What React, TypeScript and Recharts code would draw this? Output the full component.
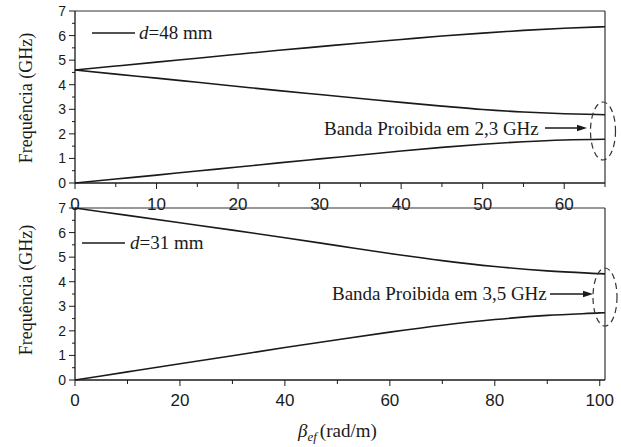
import React from "react";
import { LineChart, Line, XAxis, YAxis, ReferenceLine } from "recharts";

// top panel, d = 48 mm
const betaTop = [0, 5, 10, 15, 20, 25, 30, 35, 40, 45, 50, 55, 60, 65];
const upperTop = [4.6, 4.76, 4.92, 5.08, 5.24, 5.4, 5.55, 5.7, 5.84, 5.98, 6.1, 6.21, 6.3, 6.36];
const middleTop = [4.6, 4.43, 4.27, 4.1, 3.93, 3.76, 3.6, 3.44, 3.28, 3.13, 2.99, 2.89, 2.82, 2.78];
const lowerTop = [0, 0.16, 0.32, 0.49, 0.65, 0.82, 0.98, 1.14, 1.3, 1.45, 1.58, 1.68, 1.75, 1.78];

// bottom panel, d = 31 mm
const betaBottom = [0, 10, 20, 30, 40, 50, 60, 70, 80, 90, 100, 101];
const upperBottom = [7.0, 6.7, 6.4, 6.1, 5.79, 5.47, 5.15, 4.86, 4.62, 4.44, 4.33, 4.32];
const lowerBottom = [0, 0.33, 0.66, 0.99, 1.32, 1.64, 1.95, 2.23, 2.46, 2.63, 2.73, 2.74];

const yTicks = [0, 0.5, 1, 1.5, 2, 2.5, 3, 3.5, 4, 4.5, 5, 5.5, 6, 6.5, 7];
const xTicksTop = [0, 5, 10, 15, 20, 25, 30, 35, 40, 45, 50, 55, 60, 65];
const xTicksBottom = [0, 10, 20, 30, 40, 50, 60, 70, 80, 90, 100];

const topData = betaTop.map((b, i) => ({
  beta: b,
  upper: upperTop[i],
  middle: middleTop[i],
  lower: lowerTop[i],
}));
const bottomData = betaBottom.map((b, i) => ({
  beta: b,
  upper: upperBottom[i],
  lower: lowerBottom[i],
}));

const INK = "#1a1a1a";
const SANS = '"Liberation Sans", Arial, sans-serif';
const SERIF = '"Liberation Serif", "Times New Roman", serif';
const serifStyle = { fontFamily: SERIF };

function YTick(props: any) {
  const { x, y, payload } = props;
  const v = payload.value;
  const major = Number.isInteger(v);
  return (
    <g>
      <line x1={x - (major ? 6 : 3)} x2={x} y1={y} y2={y} stroke={INK} strokeWidth={1} />
      {major && (
        <text x={x - 9} y={y} dy="0.36em" textAnchor="end" fontSize={14} style={{ fontFamily: SANS }} fill={INK}>
          {v}
        </text>
      )}
    </g>
  );
}

const makeXTick = (step: number, drop: number) => (props: any) => {
  const { x, y, payload } = props;
  const v = payload.value;
  const major = v % step === 0;
  return (
    <g>
      <line x1={x} x2={x} y1={y} y2={y + (major ? 6 : 4)} stroke={INK} strokeWidth={1} />
      {major && (
        <text x={x} y={y + drop} textAnchor="middle" fontSize={17} style={{ fontFamily: SANS }} fill={INK}>
          {v}
        </text>
      )}
    </g>
  );
};

const XTickTop = makeXTick(10, 27);
const XTickBottom = makeXTick(20, 26);

function Arrow({ x1, x2, y }: { x1: number; x2: number; y: number }) {
  return (
    <g>
      <line x1={x1} x2={x2 - 8} y1={y} y2={y} stroke={INK} strokeWidth={1.3} />
      <polygon points={`${x2 - 10},${y - 3.2} ${x2},${y} ${x2 - 10},${y + 3.2}`} fill={INK} />
    </g>
  );
}

export default function App() {
  return (
    <div style={{ position: "absolute", left: 0, top: 0, width: 621, height: 447, background: "#fff" }}>
      <div style={{ position: "absolute", left: 0, top: 0 }}>
        <LineChart width={621} height={215} data={topData} margin={{ top: 11, right: 16, bottom: 0, left: 0 }}>
          <XAxis
            dataKey="beta"
            type="number"
            domain={[0, 65]}
            ticks={xTicksTop}
            interval={0}
            height={32}
            tickSize={0}
            tickMargin={0}
            tickLine={false}
            tick={<XTickTop />}
            axisLine={{ stroke: INK, strokeWidth: 1.3 }}
          />
          <YAxis
            type="number"
            domain={[0, 7]}
            ticks={yTicks}
            interval={0}
            width={75}
            tickSize={0}
            tickMargin={0}
            tickLine={false}
            tick={<YTick />}
            axisLine={{ stroke: INK, strokeWidth: 1.3 }}
          />
          <ReferenceLine y={7} stroke="#333" strokeWidth={1.2} />
          <ReferenceLine x={65} stroke="#333" strokeWidth={1.2} />
          <Line type="monotone" dataKey="upper" stroke={INK} strokeWidth={1.6} dot={false} isAnimationActive={false} />
          <Line type="monotone" dataKey="middle" stroke={INK} strokeWidth={1.6} dot={false} isAnimationActive={false} />
          <Line type="monotone" dataKey="lower" stroke={INK} strokeWidth={1.6} dot={false} isAnimationActive={false} />
        </LineChart>
      </div>
      <div style={{ position: "absolute", left: 0, top: 195 }}>
        <LineChart width={621} height={252} data={bottomData} margin={{ top: 13, right: 16, bottom: 27, left: 0 }}>
          <XAxis
            dataKey="beta"
            type="number"
            domain={[0, 101]}
            ticks={xTicksBottom}
            interval={0}
            height={40}
            tickSize={0}
            tickMargin={0}
            tickLine={false}
            tick={<XTickBottom />}
            axisLine={{ stroke: INK, strokeWidth: 1.3 }}
          />
          <YAxis
            type="number"
            domain={[0, 7]}
            ticks={yTicks}
            interval={0}
            width={75}
            tickSize={0}
            tickMargin={0}
            tickLine={false}
            tick={<YTick />}
            axisLine={{ stroke: INK, strokeWidth: 1.3 }}
          />
          <ReferenceLine y={7} stroke="#333" strokeWidth={1.2} />
          <ReferenceLine x={101} stroke="#333" strokeWidth={1.2} />
          <Line type="monotone" dataKey="upper" stroke={INK} strokeWidth={1.6} dot={false} isAnimationActive={false} />
          <Line type="monotone" dataKey="lower" stroke={INK} strokeWidth={1.6} dot={false} isAnimationActive={false} />
        </LineChart>
      </div>
      <svg
        width={621}
        height={447}
        style={{ position: "absolute", left: 0, top: 0, pointerEvents: "none" }}
      >
        {/* axis titles */}
        <text
          transform="translate(26,98) rotate(-90)"
          textAnchor="middle"
          dy="0.35em"
          fontSize={18}
          style={serifStyle}
          fill={INK}
        >
          Frequência (GHz)
        </text>
        <text
          transform="translate(26,290) rotate(-90)"
          textAnchor="middle"
          dy="0.35em"
          fontSize={18}
          style={serifStyle}
          fill={INK}
        >
          Frequência (GHz)
        </text>
        <text x={298} y={437} fontSize={19} style={serifStyle} fill={INK}>
          <tspan fontStyle="italic">β</tspan>
          <tspan fontStyle="italic" fontSize={13} dy={4}>ef</tspan>
          <tspan dy={-4} dx={3}>(rad/m)</tspan>
        </text>

        {/* legends */}
        <line x1={92} x2={135} y1={33} y2={33} stroke={INK} strokeWidth={1.6} />
        <text x={139} y={39} fontSize={19} style={serifStyle} fill={INK}>
          <tspan fontStyle="italic">d</tspan>=48 mm
        </text>
        <line x1={82} x2={125} y1={243} y2={243} stroke={INK} strokeWidth={1.6} />
        <text x={130} y={249} fontSize={19} style={serifStyle} fill={INK}>
          <tspan fontStyle="italic">d</tspan>=31 mm
        </text>

        {/* band gap annotations */}
        <text x={324} y={135} fontSize={19} style={serifStyle} fill={INK}>
          Banda Proibida em 2,3 GHz
        </text>
        <Arrow x1={545} x2={587} y={128} />
        <ellipse cx={603} cy={131} rx={12.5} ry={29} fill="none" stroke="#333" strokeWidth={1.2} strokeDasharray="6 4" />

        <text x={332} y={300} fontSize={19} style={serifStyle} fill={INK}>
          Banda Proibida em 3,5 GHz
        </text>
        <Arrow x1={550} x2={593} y={294} />
        <ellipse cx={605} cy={297} rx={12} ry={29} fill="none" stroke="#333" strokeWidth={1.2} strokeDasharray="6 4" />
      </svg>
    </div>
  );
}
